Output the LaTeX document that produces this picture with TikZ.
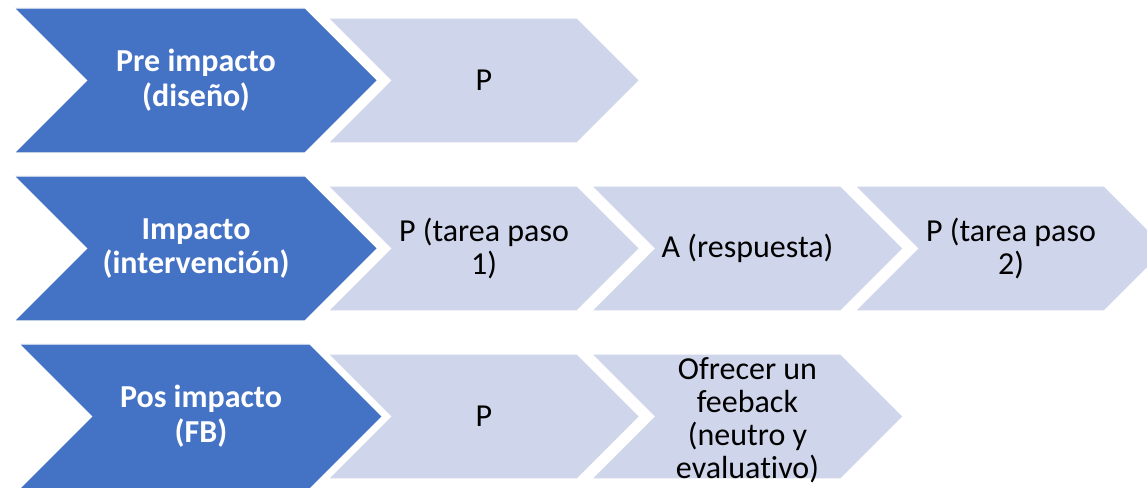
\documentclass[tikz,border=0pt]{standalone}
\usepackage{fontspec}
\setmainfont[Ligatures=NoCommon]{Carlito}
\usetikzlibrary{shapes, arrows}
\definecolor{fase}{RGB}{68,114,196}
\definecolor{paso}{RGB}{207,213,234}
\tikzstyle{fasebox} = [fill=fase, draw=white, line width=0.8pt]
\tikzstyle{pasobox} = [fill=paso, draw=white, line width=0.8pt]
\tikzstyle{fasetext} = [text=white, font=\bfseries\fontsize{24}{26}\selectfont, align=center, inner sep=0pt]
\tikzstyle{pasotext} = [text=black, font=\fontsize{24}{24.8}\selectfont, align=center, inner sep=0pt]

\begin{document}
\begin{tikzpicture}[x=0.75pt, y=-0.75pt]
		\def\xn{263.5}
		\def\yn{168}
		\useasboundingbox (0,0) rectangle (1147,488);

		% fases (azul)
		\draw[fasebox] (14,8) -- (305,8) -- (377.5,80.5) -- (305,153) -- (14,153) -- (86.5,80.5) -- cycle;
		\draw[fasebox] (14,8+\yn) -- (305,8+\yn) -- (377.5,80.5+\yn) -- (305,153+\yn) -- (14,153+\yn) -- (86.5,80.5+\yn) -- cycle;
		\draw[fasebox] (19,8+2*\yn) -- (310,8+2*\yn) -- (382.5,80.5+2*\yn) -- (310,153+2*\yn) -- (19,153+2*\yn) -- (91.5,80.5+2*\yn) -- cycle;
		\node[fasetext] (pre) at (196, 80.5) {Pre impacto\\(diseño)};
		\node[fasetext] (imp) at (196, 80.5+\yn) {Impacto\\(intervención)};
		\node[fasetext] (pos) at (201, 80.5+2*\yn) {Pos impacto\\(FB)};

		% pasos (claro)
		\draw[pasobox] (328,18) -- (577,18) -- (639.5,80.5) -- (577,143) -- (328,143) -- (390.5,80.5) -- cycle;
		\node[pasotext] (preP) at (484, 80.5) {P};

		\draw[pasobox] (328,18+\yn) -- (577,18+\yn) -- (639.5,80.5+\yn) -- (577,143+\yn) -- (328,143+\yn) -- (390.5,80.5+\yn) -- cycle;
		\draw[pasobox] (328+\xn,18+\yn) -- (577+\xn,18+\yn) -- (639.5+\xn,80.5+\yn) -- (577+\xn,143+\yn) -- (328+\xn,143+\yn) -- (390.5+\xn,80.5+\yn) -- cycle;
		\draw[pasobox] (328+2*\xn,18+\yn) -- (577+2*\xn,18+\yn) -- (639.5+2*\xn,80.5+\yn) -- (577+2*\xn,143+\yn) -- (328+2*\xn,143+\yn) -- (390.5+2*\xn,80.5+\yn) -- cycle;
		\node[pasotext] (impP1) at (484, 80.5+\yn) {P (tarea paso\\1)};
		\node[pasotext] (impA) at (484+\xn, 80.5+\yn) {A (respuesta)};
		\node[pasotext] (impP2) at (484+2*\xn, 80.5+\yn) {P (tarea paso\\2)};

		\draw[pasobox] (328,18+2*\yn) -- (577,18+2*\yn) -- (639.5,80.5+2*\yn) -- (577,143+2*\yn) -- (328,143+2*\yn) -- (390.5,80.5+2*\yn) -- cycle;
		\draw[pasobox] (328+\xn,18+2*\yn) -- (577+\xn,18+2*\yn) -- (639.5+\xn,80.5+2*\yn) -- (577+\xn,143+2*\yn) -- (328+\xn,143+2*\yn) -- (390.5+\xn,80.5+2*\yn) -- cycle;
		\node[pasotext] (posP) at (484, 80.5+2*\yn) {P};
		\node[pasotext] (posFB) at (484+\xn, 84+2*\yn) {Ofrecer un\\feeback\\(neutro y\\evaluativo)};
	\end{tikzpicture}
\end{document}
